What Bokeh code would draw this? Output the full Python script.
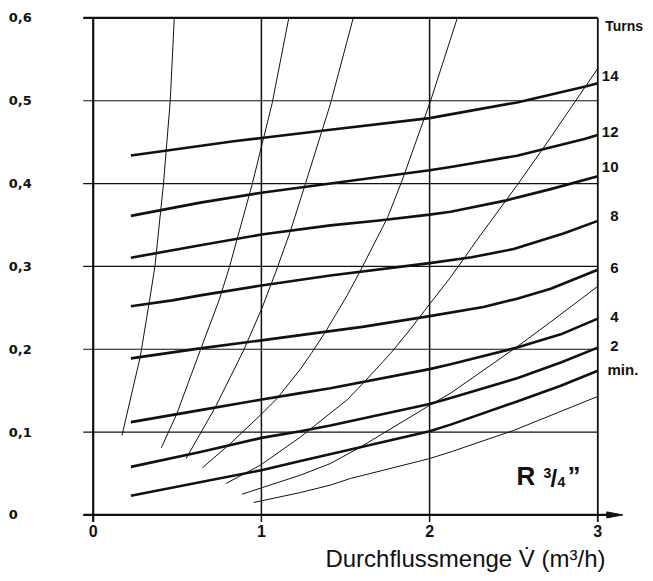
from bokeh.plotting import figure
from bokeh.models import Range1d
from bokeh.core.properties import value
from bokeh.embed import file_html
from bokeh.resources import INLINE

# ---------------- data ----------------
x_ticks = [0, 1, 2, 3]
x_tick_labels = ["0", "1", "2", "3"]
y_ticks = [0.0, 0.1, 0.2, 0.3, 0.4, 0.5, 0.6]
y_tick_labels = ["0", "0,1", "0,2", "0,3", "0,4", "0,5", "0,6"]

x_title = "Durchflussmenge V\u0307 (m\u00b3/h)"

# thick curves: number of turns
turns_14_x = [0.224, 0.44, 0.835, 1.0, 1.41, 2.0, 2.52, 2.92, 3.0]
turns_14_y = [0.434, 0.440, 0.451, 0.455, 0.465, 0.479, 0.498, 0.517, 0.521]
turns_12_x = [0.224, 0.637, 1.0, 1.41, 2.0, 2.125, 2.52, 2.92, 3.0]
turns_12_y = [0.361, 0.377, 0.389, 0.400, 0.416, 0.420, 0.4337, 0.4538, 0.4586]
turns_10_x = [0.224, 0.637, 1.0, 1.41, 1.7, 2.0, 2.125, 2.45, 2.72, 3.0]
turns_10_y = [0.3105, 0.3255, 0.3385, 0.3495, 0.3555, 0.3625, 0.366, 0.3794, 0.3933, 0.4088]
turns_8_x = [0.224, 0.47, 0.637, 1.0, 1.41, 2.0, 2.25, 2.5, 2.8, 3.0]
turns_8_y = [0.252, 0.259, 0.265, 0.277, 0.289, 0.304, 0.311, 0.321, 0.340, 0.355]
turns_6_x = [0.224, 0.637, 0.935, 1.232, 1.6, 2.0, 2.32, 2.52, 2.72, 3.0]
turns_6_y = [0.189, 0.201, 0.209, 0.217, 0.227, 0.240, 0.251, 0.261, 0.273, 0.296]
turns_4_x = [0.224, 0.637, 0.994, 1.232, 1.41, 2.0, 2.125, 2.52, 2.78, 3.0]
turns_4_y = [0.112, 0.1265, 0.139, 0.147, 0.153, 0.176, 0.182, 0.202, 0.218, 0.237]
turns_2_x = [0.224, 0.637, 1.0, 1.232, 1.41, 2.0, 2.125, 2.52, 2.78, 3.0]
turns_2_y = [0.058, 0.076, 0.093, 0.101, 0.108, 0.134, 0.141, 0.165, 0.184, 0.202]
turns_min_x = [0.224, 1.0, 1.232, 1.53, 2.0, 2.125, 2.52, 2.78, 3.0]
turns_min_y = [0.023, 0.054, 0.065, 0.079, 0.101, 0.109, 0.137, 0.156, 0.174]

turn_labels = ["14", "12", "10", "8", "6", "4", "2"]
turn_label_y = [0.5298, 0.4623, 0.4195, 0.3611, 0.2978, 0.2389, 0.2038]
min_label = "min."
min_label_y = 0.1759
turns_title = "Turns"
turns_title_y = 0.5904

# thin curves
flow_1_x = [0.171, 0.28, 0.335, 0.367, 0.418, 0.458, 0.482]
flow_1_y = [0.096, 0.191, 0.259, 0.3, 0.4, 0.5, 0.6]
flow_2_x = [0.405, 0.498, 0.637, 0.75, 0.811, 0.945, 1.064, 1.163]
flow_2_y = [0.081, 0.1225, 0.199, 0.26, 0.3, 0.399, 0.497, 0.6]
flow_3_x = [0.552, 0.726, 0.895, 1.004, 1.083, 1.173, 1.262, 1.41, 1.546]
flow_3_y = [0.068, 0.130, 0.199, 0.250, 0.292, 0.343, 0.400, 0.496, 0.6]
flow_4_x = [0.65, 0.815, 0.994, 1.093, 1.232, 1.30, 1.381, 1.51, 1.589, 1.75, 1.837, 2.006, 2.165]
flow_4_y = [0.057, 0.086, 0.1205, 0.1406, 0.176, 0.196, 0.221, 0.265, 0.295, 0.359, 0.404, 0.5, 0.6]
flow_5_x = [0.79, 0.994, 1.232, 1.51, 1.609, 1.768, 1.877, 2.006, 2.125, 2.30, 2.52, 2.68, 3.0]
flow_5_y = [0.038, 0.060, 0.094, 0.139, 0.160, 0.195, 0.222, 0.256, 0.287, 0.337, 0.398, 0.444, 0.539]
flow_6_x = [0.885, 1.232, 1.41, 1.59, 2.006, 2.125, 2.52, 2.72, 3.0]
flow_6_y = [0.025, 0.048, 0.062, 0.082, 0.133, 0.147, 0.203, 0.233, 0.276]
flow_7_x = [0.954, 1.232, 1.41, 1.53, 2.0, 2.125, 2.5, 3.0]
flow_7_y = [0.015, 0.027, 0.036, 0.044, 0.068, 0.076, 0.102, 0.143]

size_label = "R"

# ---------------- layout ----------------
W, H = 645, 573
XS, YS = 168.2, 828.3          # pixels per data unit
X0_PX, Y0_PX = 92.7, 514.4     # position of data origin inside the canvas


def dx(px):
    return px / XS


def dy(px):
    return px / YS


x_rng = Range1d(-X0_PX / XS, (W - X0_PX) / XS)
y_rng = Range1d(-(H - Y0_PX) / YS, Y0_PX / YS)

INK = "#111111"
FONT = value("Liberation Sans")
TICK_FONT = value("DejaVu Sans")

p = figure(width=W, height=H, x_range=x_rng, y_range=y_rng, title=None,
           output_backend="svg", toolbar_location=None,
           x_axis_type=None, y_axis_type=None, min_border=0,
           background_fill_color="white", border_fill_color="white",
           outline_line_color=None)
p.grid.visible = False

xmin, xmax = x_ticks[0], x_ticks[-1]
ymin, ymax = y_ticks[0], y_ticks[-1]

# horizontal grid lines (with outward tick stubs on the left)
inner_y = y_ticks[1:-1]
p.segment(x0=[xmin - dx(10)] * len(inner_y), y0=inner_y,
          x1=[xmax] * len(inner_y), y1=inner_y,
          line_color=INK, line_width=1.2)
# top border
p.segment(x0=[xmin - dx(10)], y0=[ymax], x1=[xmax], y1=[ymax],
          line_color=INK, line_width=2.2)
# x axis line with arrow
p.segment(x0=[xmin - dx(10)], y0=[ymin], x1=[xmax + dx(14)], y1=[ymin],
          line_color=INK, line_width=2.2)
p.patch(x=[xmax + dx(9), xmax + dx(25), xmax + dx(9)],
        y=[ymin + dy(3), ymin, ymin - dy(3)],
        fill_color=INK, line_color=INK, line_width=1)

# vertical lines
p.segment(x0=[xmin], y0=[ymin - dy(7)], x1=[xmin], y1=[ymax],
          line_color=INK, line_width=2.2)
mid_x = x_ticks[1:-1]
p.segment(x0=mid_x, y0=[ymin - dy(7)] * len(mid_x), x1=mid_x, y1=[ymax] * len(mid_x),
          line_color=INK, line_width=1.5)
p.segment(x0=[xmax], y0=[ymin - dy(7)], x1=[xmax], y1=[ymax],
          line_color=INK, line_width=1.8)

# thin curves
for fx, fy in [(flow_1_x, flow_1_y), (flow_2_x, flow_2_y), (flow_3_x, flow_3_y),
               (flow_4_x, flow_4_y), (flow_5_x, flow_5_y), (flow_6_x, flow_6_y),
               (flow_7_x, flow_7_y)]:
    p.line(fx, fy, line_color=INK, line_width=1.0, line_join="round")

# thick curves
for tx, ty in [(turns_14_x, turns_14_y), (turns_12_x, turns_12_y),
               (turns_10_x, turns_10_y), (turns_8_x, turns_8_y),
               (turns_6_x, turns_6_y), (turns_4_x, turns_4_y),
               (turns_2_x, turns_2_y), (turns_min_x, turns_min_y)]:
    p.line(tx, ty, line_color=INK, line_width=2.6, line_join="round")

# y tick labels (left aligned at the page edge)
p.text(x=[xmin - dx(84.5)] * len(y_ticks), y=y_ticks, text=y_tick_labels,
       text_font=TICK_FONT, text_font_style="bold", text_font_size="13px",
       text_align="left", text_baseline="middle", text_color=INK)
# x tick labels
p.text(x=x_ticks, y=[ymin - dy(16)] * len(x_ticks), text=x_tick_labels,
       text_font=FONT, text_font_style="bold", text_font_size="16px",
       text_align="center", text_baseline="middle", text_color=INK)
# x title
p.text(x=[xmax + dx(7.7)], y=[ymin - dy(44)], text=[x_title],
       text_font=FONT, text_font_size="24px",
       text_align="right", text_baseline="middle", text_color=INK)

# right-hand labels
p.text(x=[xmax + dx(20.7)] * len(turn_labels), y=turn_label_y, text=turn_labels,
       text_font=FONT, text_font_style="bold", text_font_size="15px",
       text_align="right", text_baseline="middle", text_color=INK)
p.text(x=[xmax + dx(9.7)], y=[min_label_y], text=[min_label],
       text_font=FONT, text_font_style="bold", text_font_size="15px",
       text_align="left", text_baseline="middle", text_color=INK)
p.text(x=[xmax + dx(7.5)], y=[turns_title_y], text=[turns_title],
       text_font=FONT, text_font_style="bold", text_font_size="14px",
       text_align="left", text_baseline="middle", text_color=INK)

# "R 3/4"" label
rx = xmax - dx(81.3)
p.text(x=[rx], y=[ymin + dy(38.6)], text=[size_label], text_font=FONT,
       text_font_style="bold", text_font_size="26px", text_align="left",
       text_baseline="middle", text_color=INK)
p.text(x=[rx + dx(27)], y=[ymin + dy(42)], text=["3"], text_font=FONT,
       text_font_style="bold", text_font_size="14px", text_align="left",
       text_baseline="middle", text_color=INK)
p.text(x=[rx + dx(34)], y=[ymin + dy(36.8)], text=["/"], text_font=FONT,
       text_font_style="bold", text_font_size="24px", text_align="left",
       text_baseline="middle", text_color=INK)
p.text(x=[rx + dx(41)], y=[ymin + dy(33.3)], text=["4"], text_font=FONT,
       text_font_style="bold", text_font_size="14px", text_align="left",
       text_baseline="middle", text_color=INK)
p.text(x=[rx + dx(51)], y=[ymin + dy(38.5)], text=["\u201d"], text_font=FONT,
       text_font_style="bold", text_font_size="26px", text_align="left",
       text_baseline="middle", text_color=INK)

open("out.html", "w").write(file_html(p, INLINE))
